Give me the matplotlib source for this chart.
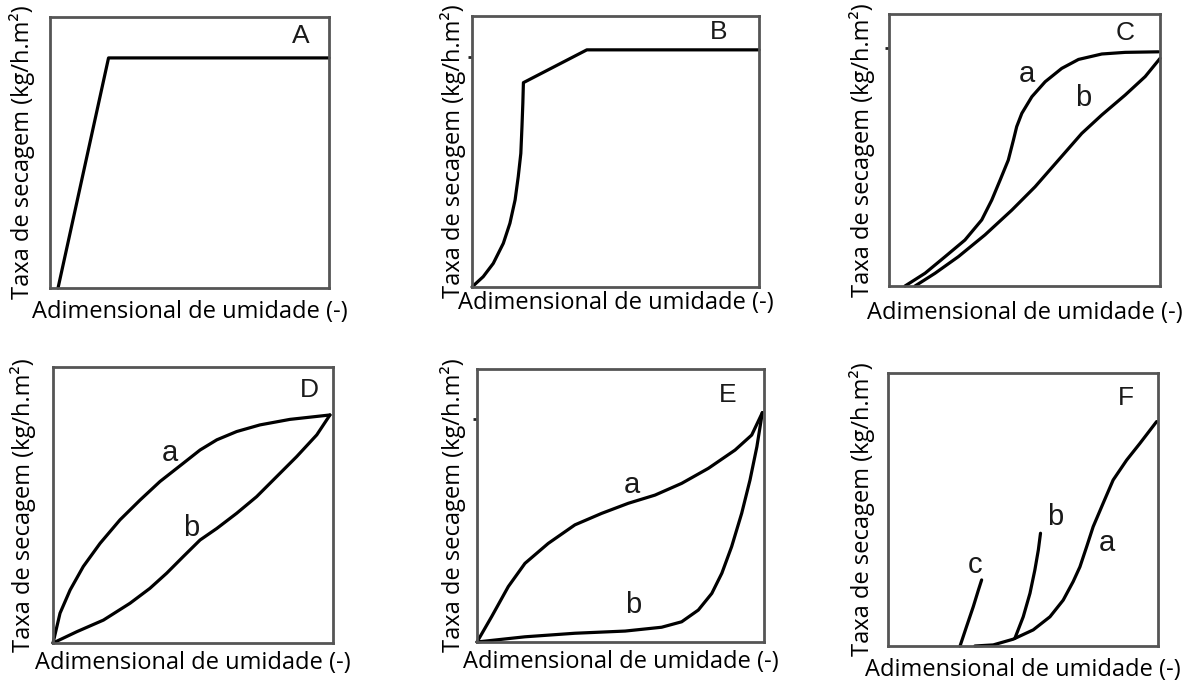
import matplotlib.pyplot as plt

# curvas de taxa de secagem (eixos normalizados 0..1)
A_x = [0.029, 0.21, 1.0]
A_y = [0.0, 0.849, 0.849]

B_x = [0.0, 0.039, 0.074, 0.109, 0.132, 0.150, 0.161, 0.170, 0.174, 0.177, 0.179, 0.40, 1.0]
B_y = [0.0, 0.038, 0.087, 0.161, 0.235, 0.321, 0.407, 0.493, 0.592, 0.678, 0.754, 0.875, 0.875]

Ca_x = [0.059, 0.133, 0.207, 0.28, 0.342, 0.379, 0.41, 0.44, 0.459, 0.471, 0.49, 0.527,
        0.576, 0.637, 0.699, 0.785, 0.871, 0.994]
Ca_y = [0.0, 0.047, 0.108, 0.169, 0.243, 0.316, 0.39, 0.463, 0.537, 0.586, 0.635, 0.696,
        0.751, 0.80, 0.833, 0.853, 0.859, 0.861]
Cb_x = [0.096, 0.17, 0.256, 0.354, 0.453, 0.539, 0.625, 0.711, 0.785, 0.871, 0.945, 1.0]
Cb_y = [0.0, 0.047, 0.108, 0.188, 0.279, 0.365, 0.463, 0.561, 0.629, 0.702, 0.77, 0.837]

Da_x = [0.0, 0.025, 0.061, 0.108, 0.168, 0.239, 0.311, 0.382, 0.465, 0.525, 0.585,
        0.656, 0.739, 0.846, 0.989]
Da_y = [0.0, 0.108, 0.192, 0.277, 0.361, 0.446, 0.518, 0.585, 0.651, 0.699, 0.736,
        0.766, 0.79, 0.81, 0.826]
Db_x = [0.0, 0.085, 0.18, 0.275, 0.346, 0.406, 0.465, 0.525, 0.585, 0.656, 0.727,
        0.799, 0.87, 0.942, 0.989]
Db_y = [0.0, 0.041, 0.083, 0.144, 0.198, 0.253, 0.313, 0.373, 0.415, 0.47, 0.53,
        0.603, 0.675, 0.754, 0.826]

Ea_x = [0.0, 0.051, 0.109, 0.167, 0.248, 0.341, 0.434, 0.527, 0.62, 0.713, 0.806,
        0.899, 0.957, 0.994]
Ea_y = [0.0, 0.093, 0.203, 0.288, 0.361, 0.429, 0.471, 0.508, 0.538, 0.581, 0.636,
        0.703, 0.758, 0.84]
Eb_x = [0.0, 0.167, 0.341, 0.516, 0.643, 0.713, 0.771, 0.818, 0.853, 0.887, 0.922,
        0.951, 0.975, 0.994]
Eb_y = [0.0, 0.019, 0.032, 0.04, 0.054, 0.074, 0.117, 0.178, 0.252, 0.349, 0.471,
        0.593, 0.715, 0.84]

Fa_x = [0.322, 0.39, 0.464, 0.538, 0.6, 0.649, 0.686, 0.711, 0.736, 0.76, 0.797,
        0.834, 0.884, 0.933, 0.995]
Fa_y = [0.0, 0.004, 0.025, 0.059, 0.107, 0.168, 0.236, 0.29, 0.364, 0.437, 0.523,
        0.608, 0.681, 0.742, 0.822]
Fb_x = [0.47, 0.501, 0.526, 0.544, 0.557, 0.565]
Fb_y = [0.028, 0.107, 0.193, 0.278, 0.352, 0.413]
Fc_x = [0.267, 0.291, 0.316, 0.335, 0.347]
Fc_y = [0.0, 0.071, 0.144, 0.205, 0.242]

paineis = [
    # letra, posicao, curvas, rotulos, (x ylabel, y xlabel), marca no eixo y
    ("A", [0.042, 0.5765, 0.2347, 0.3985], [(A_x, A_y)], [], (-0.10, -0.089), None),
    ("B", [0.397, 0.578, 0.2414, 0.3985], [(B_x, B_y)], [], (-0.066, -0.059), 0.849),
    ("C", [0.7477, 0.5794, 0.228, 0.40], [(Ca_x, Ca_y), (Cb_x, Cb_y)],
     [("a", 0.508, 0.78), ("b", 0.717, 0.69)], (-0.10, -0.099), 0.875),
    ("D", [0.0446, 0.0544, 0.2355, 0.406], [(Da_x, Da_y), (Db_x, Db_y)],
     [("a", 0.418, 0.687), ("b", 0.495, 0.415)], (-0.107, -0.072), None),
    ("E", [0.4012, 0.0559, 0.2414, 0.4015], [(Ea_x, Ea_y), (Eb_x, Eb_y)],
     [("a", 0.539, 0.575), ("b", 0.544, 0.136)], (-0.084, -0.073), 0.817),
    ("F", [0.7468, 0.05, 0.2271, 0.4015], [(Fa_x, Fa_y), (Fb_x, Fb_y), (Fc_x, Fc_y)],
     [("c", 0.322, 0.297), ("b", 0.619, 0.474), ("a", 0.81, 0.376)], (-0.096, -0.088), None),
]

letra_xy = {"A": (0.90, 0.93), "B": (0.86, 0.94), "C": (0.871, 0.929),
            "D": (0.917, 0.916), "E": (0.875, 0.906), "F": (0.883, 0.908)}

fig = plt.figure(figsize=(11.89, 6.8), dpi=100)

for letra, pos, curvas, rotulos, (ylx, xly), marca in paineis:
    ax = fig.add_axes(pos)
    for cx, cy in curvas:
        ax.plot(cx, cy, color="black", lw=2.3, solid_capstyle="round",
                solid_joinstyle="round", clip_on=False)
    ax.set_xlim(0, 1)
    ax.set_ylim(0, 1)
    ax.set_xticks([])
    if marca is None:
        ax.set_yticks([])
    else:
        ax.set_yticks([marca])
        ax.set_yticklabels([])
        ax.tick_params(axis="y", length=3, width=2, color="#222222")
    for s in ax.spines.values():
        s.set_color("#555555")
        s.set_linewidth(2.0)
    ax.set_ylabel("Taxa de secagem (kg/h.m²)", fontsize=17, family="Open Sans", va="center")
    ax.yaxis.set_label_coords(ylx, 0.5)
    ax.set_xlabel("Adimensional de umidade (-)", fontsize=17, family="Open Sans", va="center")
    ax.xaxis.set_label_coords(0.5, xly)
    lx, ly = letra_xy[letra]
    ax.text(lx, ly, letra, transform=ax.transAxes, fontsize=19, family="Liberation Sans",
            color="#1a1a1a", ha="center", va="center")
    for t, tx, ty in rotulos:
        ax.text(tx, ty, t, transform=ax.transAxes, fontsize=21, family="Liberation Sans",
                color="#1a1a1a", ha="center", va="center")

plt.savefig("out.png", dpi=100)
